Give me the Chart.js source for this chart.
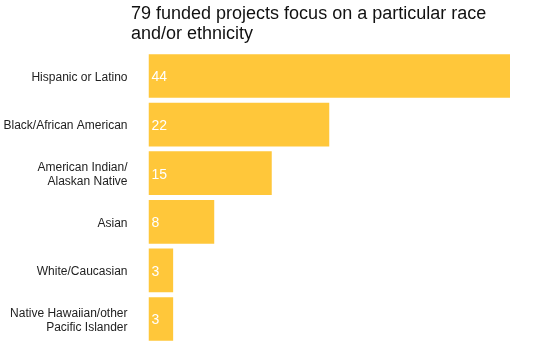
<!DOCTYPE html>
<html><head><meta charset="utf-8">
<script src="https://cdn.jsdelivr.net/npm/chart.js@4/dist/chart.umd.min.js"></script>
<style>html,body{margin:0;padding:0;background:#fff;}#wrap{width:534px;height:356px;position:relative;}</style>
</head><body><div id="wrap"><canvas id="c"></canvas></div>
<script>
const categories = [
  "Hispanic or Latino",
  "Black/African American",
  ["American Indian/", "Alaskan Native"],
  "Asian",
  "White/Caucasian",
  ["Native Hawaiian/other", "Pacific Islander"]
];
const projectCounts = [44, 22, 15, 8, 3, 3];
const titleLines = ["79 funded projects focus on a particular race", "and/or ethnicity"];

const titlePlugin = {
  id: 'leftTitle',
  afterDraw(chart) {
    const ctx = chart.ctx;
    ctx.save();
    ctx.font = '18px "Liberation Sans", Arial, sans-serif';
    ctx.fillStyle = '#111';
    ctx.textBaseline = 'middle';
    ctx.textAlign = 'left';
    titleLines.forEach((t, i) => ctx.fillText(t, 131, 14.5 + i * 20));
    ctx.restore();
  }
};
const valuePlugin = {
  id: 'values',
  afterDatasetsDraw(chart) {
    const ctx = chart.ctx;
    const meta = chart.getDatasetMeta(0);
    ctx.save();
    ctx.font = '14px "Liberation Sans", Arial, sans-serif';
    ctx.fillStyle = '#fff';
    ctx.textBaseline = 'middle';
    ctx.textAlign = 'left';
    meta.data.forEach((bar, i) => {
      ctx.fillText(String(projectCounts[i]), bar.base + 3, bar.y + 1.5);
    });
    ctx.restore();
  }
};

new Chart(document.getElementById('c'), {
  type: 'bar',
  data: {
    labels: categories,
    datasets: [{
      data: projectCounts,
      backgroundColor: '#FFC73A',
      borderWidth: 0,
      barPercentage: 0.9,
      categoryPercentage: 1.0
    }]
  },
  options: {
    indexAxis: 'y',
    responsive: true,
    maintainAspectRatio: false,
    animation: false,
    layout: { padding: { top: 51.7, right: 24, bottom: 12.7, left: 0 } },
    plugins: { legend: { display: false }, title: { display: false }, tooltip: { enabled: false } },
    scales: {
      x: { display: false, min: 0, max: 44 },
      y: {
        grid: { display: false, drawTicks: true, tickLength: 21 },
        border: { display: false },
        ticks: {
          color: '#222',
          padding: 0,
          labelOffset: 1.5,
          font: { family: '"Liberation Sans", Arial, sans-serif', size: 12, lineHeight: 1.12 }
        },
        afterFit(scale) { scale.width = 148.5; scale.paddingTop = 0; scale.paddingBottom = 0; }
      }
    }
  },
  plugins: [titlePlugin, valuePlugin]
});
</script></body></html>
